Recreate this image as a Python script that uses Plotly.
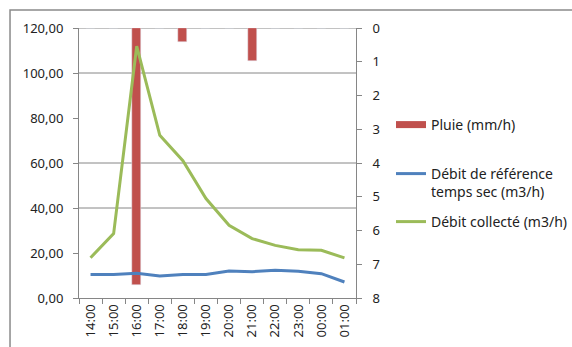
import plotly.graph_objects as go

hours = ["14:00", "15:00", "16:00", "17:00", "18:00", "19:00",
         "20:00", "21:00", "22:00", "23:00", "00:00", "01:00"]
pluie = [0, 0, 7.6, 0, 0.4, 0, 0, 0.97, 0, 0, 0, 0]
debit_ref = [10.4, 10.4, 11.0, 9.8, 10.4, 10.5, 12.0, 11.7, 12.3, 11.9, 10.8, 7.1]
debit_coll = [17.9, 28.6, 111.9, 72.3, 61.0, 44.2, 32.3, 26.4, 23.4, 21.5, 21.2, 17.8]
left_ticks = [0, 20, 40, 60, 80, 100, 120]
left_labels = ["0,00", "20,00", "40,00", "60,00", "80,00", "100,00", "120,00"]
grid_vals = [40, 60, 100, 120]

RED = "#C0504D"
BLUE = "#4F81BD"
GREEN = "#9BBB59"
FONT = "Noto Sans"

fig = go.Figure()

fig.add_trace(go.Bar(x=hours, y=pluie, yaxis="y", marker_color=RED, width=0.39,
                     name="Pluie (mm/h)", showlegend=False))
fig.add_trace(go.Scatter(x=[None], y=[None], mode="lines", yaxis="y",
                         line=dict(color=RED, width=7), name="Pluie (mm/h)",
                         legend="legend"))
fig.add_trace(go.Scatter(x=hours, y=debit_ref, yaxis="y2", mode="lines",
                         line=dict(color=BLUE, width=3),
                         name="Débit de référence<br>temps sec (m3/h)", legend="legend2"))
fig.add_trace(go.Scatter(x=hours, y=debit_coll, yaxis="y2", mode="lines",
                         line=dict(color=GREEN, width=3),
                         name="Débit collecté (m3/h)", legend="legend3"))

shapes = []
for v in grid_vals:
    shapes.append(dict(type="line", xref="paper", yref="y2", x0=0, x1=1, y0=v, y1=v,
                       line=dict(color="#868686", width=1), layer="below"))
shapes.append(dict(type="rect", xref="paper", yref="paper", x0=-0.249, x1=2.0,
                   y0=-0.6, y1=1.0667, line=dict(color="#8a8a8a", width=1.5),
                   layer="below"))

leg_common = dict(font=dict(family=FONT, size=14, color="#222"), bgcolor="rgba(0,0,0,0)",
                  xanchor="left", yanchor="middle", valign="top", itemwidth=30)
lx = (391 - 79) / 277

fig.update_layout(
    width=572, height=347,
    margin=dict(l=79, r=216, t=28, b=49, autoexpand=False),
    paper_bgcolor="white", plot_bgcolor="white",
    font=dict(family=FONT, size=13, color="#222"),
    bargap=0,
    shapes=shapes,
    xaxis=dict(type="category", showgrid=False, showline=True, linecolor="#868686",
               ticks="outside", tickson="boundaries", ticklen=5, tickcolor="#868686",
               tickangle=-90, tickfont=dict(size=13), automargin=False),
    yaxis=dict(side="right", range=[8, 0], tickvals=list(range(9)),
               showgrid=False, showline=True, linecolor="#868686",
               ticks="outside", ticklen=5, tickcolor="#868686", zeroline=False,
               tickfont=dict(size=13), automargin=False, ticklabelstandoff=8),
    yaxis2=dict(side="left", overlaying="y", range=[0, 120], tickvals=left_ticks,
                ticktext=left_labels, showgrid=False, showline=True, linecolor="#868686",
                ticks="outside", ticklen=5, tickcolor="#868686", zeroline=False,
                tickfont=dict(size=13), automargin=False, ticklabelstandoff=7),
    legend=dict(x=lx, y=(298 - 125) / 270, **leg_common),
    legend2=dict(x=lx, y=(298 - 183) / 270, **leg_common),
    legend3=dict(x=lx, y=(298 - 222) / 270, **leg_common),
)

fig.write_html("out.html", config={"displayModeBar": False},
               post_script="document.body.style.margin='0';")
